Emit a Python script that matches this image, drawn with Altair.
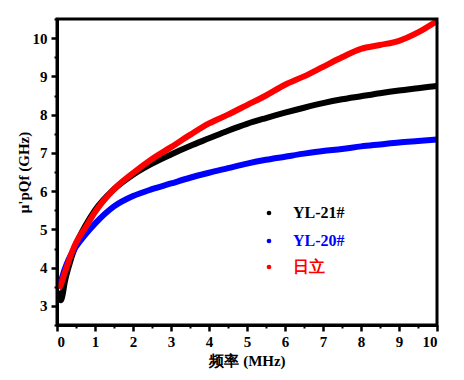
import altair as alt
import pandas as pd

# frequency (MHz) and mu'pQf (GHz)
x_red = [0.05, 0.1, 0.2, 0.3, 0.5, 0.75, 1.0, 1.5, 2.0, 2.5, 3.0, 3.5, 4.0, 4.5, 5.0, 5.5, 6.0, 6.5, 7.0, 7.5, 8.0, 8.5, 9.0, 9.5, 10.0]
y_red = [3.45, 3.55, 3.85, 4.15, 4.65, 5.05, 5.45, 6.05, 6.47, 6.84, 7.15, 7.47, 7.77, 8.0, 8.25, 8.5, 8.78, 9.0, 9.25, 9.5, 9.72, 9.82, 9.93, 10.15, 10.45]

x_black = [0.05, 0.1, 0.15, 0.2, 0.3, 0.5, 0.75, 1.0, 1.5, 2.0, 2.5, 3.0, 3.5, 4.0, 4.5, 5.0, 5.5, 6.0, 6.5, 7.0, 7.5, 8.0, 8.5, 9.0, 9.5, 10.0]
y_black = [3.4, 3.15, 3.3, 3.6, 4.0, 4.6, 5.1, 5.5, 6.05, 6.43, 6.72, 6.96, 7.18, 7.38, 7.58, 7.76, 7.91, 8.05, 8.18, 8.3, 8.4, 8.48, 8.56, 8.63, 8.69, 8.75]

x_blue = [0.05, 0.1, 0.2, 0.3, 0.5, 0.75, 1.0, 1.5, 2.0, 2.5, 3.0, 3.5, 4.0, 4.5, 5.0, 5.5, 6.0, 6.5, 7.0, 7.5, 8.0, 8.5, 9.0, 9.5, 10.0]
y_blue = [3.55, 3.65, 3.95, 4.2, 4.55, 4.87, 5.15, 5.6, 5.87, 6.05, 6.2, 6.35, 6.48, 6.6, 6.72, 6.82, 6.9, 6.98, 7.05, 7.1, 7.17, 7.22, 7.27, 7.31, 7.35]

series_names = ["YL-21#", "YL-20#", "日立"]
series_colors = ["#000000", "#0000ff", "#ff0000"]

x_major = list(range(0, 11))
x_minor = [i + 0.5 for i in range(0, 10)]
y_major = list(range(3, 11))
y_minor = [2.5 + i for i in range(0, 9)]

FONT = "Liberation Serif"

rows = []
for name, xs, ys in [("YL-21#", x_black, y_black), ("YL-20#", x_blue, y_blue), ("日立", x_red, y_red)]:
    for a, b in zip(xs, ys):
        rows.append({"f": a, "v": b, "s": name})
df = pd.DataFrame(rows)

xscale = alt.Scale(domain=[0, 10], nice=False, zero=False)
yscale = alt.Scale(domain=[2.5, 10.5], nice=False, zero=False)

main_x_axis = alt.Axis(values=x_major, format="d", title="频率 (MHz)", domainWidth=3, domainColor="black",
                       tickWidth=2.5, tickSize=6, tickColor="black", labelFont=FONT, labelFontSize=15,
                       labelFontWeight="bold", labelColor="black", labelPadding=3, grid=False,
                       titleFont=FONT, titleFontSize=15, titleFontWeight="bold", titleColor="black",
                       titlePadding=4, orient="bottom")
main_y_axis = alt.Axis(values=y_major, format="d", title="μ'pQf (GHz)", domainWidth=3, domainColor="black",
                       tickWidth=2.5, tickSize=6, tickColor="black", labelFont=FONT, labelFontSize=15,
                       labelFontWeight="bold", labelColor="black", labelPadding=4, grid=False,
                       titleFont=FONT, titleFontSize=15, titleFontWeight="bold", titleColor="black",
                       titlePadding=1, orient="left")

lines = alt.Chart(df).mark_line(strokeWidth=6, interpolate="monotone").encode(
    x=alt.X("f:Q", scale=xscale, axis=main_x_axis),
    y=alt.Y("v:Q", scale=yscale, axis=main_y_axis),
    color=alt.Color("s:N", scale=alt.Scale(domain=series_names, range=series_colors), legend=None),
    order=alt.Order("s:N"),
)

minor_x_axis = alt.Axis(values=x_minor, labels=False, title=None, domain=False, tickWidth=2, tickSize=3,
                        tickColor="black", grid=False, orient="bottom")
minor_y_axis = alt.Axis(values=y_minor, labels=False, title=None, domain=False, tickWidth=2, tickSize=3,
                        tickColor="black", grid=False, orient="left")
minor = alt.Chart(pd.DataFrame({"f": [0.0], "v": [2.5]})).mark_point(opacity=0).encode(
    x=alt.X("f:Q", scale=xscale, axis=minor_x_axis),
    y=alt.Y("v:Q", scale=yscale, axis=minor_y_axis),
)

frame = alt.Chart(pd.DataFrame({"k": [0]})).mark_rect(fill=None, stroke="black", strokeWidth=3).encode(
    x=alt.value(0), x2=alt.value(380), y=alt.value(0), y2=alt.value(306)
)

leg = pd.DataFrame({"s": series_names, "c": series_colors, "py": [194, 222, 248]})
leg_pts = alt.Chart(leg).mark_circle(size=22, opacity=1).encode(
    x=alt.value(212),
    y=alt.Y("py:Q", scale=None),
    color=alt.Color("c:N", scale=None),
)
leg_txt = alt.Chart(leg).mark_text(align="left", baseline="middle", font=FONT, fontSize=16,
                                   fontWeight="bold").encode(
    x=alt.value(236),
    y=alt.Y("py:Q", scale=None),
    text="s:N",
    color=alt.Color("c:N", scale=None),
)

chart = alt.layer(minor, lines, frame, leg_pts, leg_txt).resolve_scale(
    x="shared", y="shared"
).resolve_axis(x="independent", y="independent").properties(
    width=380, height=306,
    autosize=alt.AutoSizeParams(type="none"),
    padding={"left": 49, "top": 11, "right": 15, "bottom": 45},
).configure_view(stroke=None).configure(background="white")

chart.save("out.html", embed_options={"renderer": "svg", "actions": False})
